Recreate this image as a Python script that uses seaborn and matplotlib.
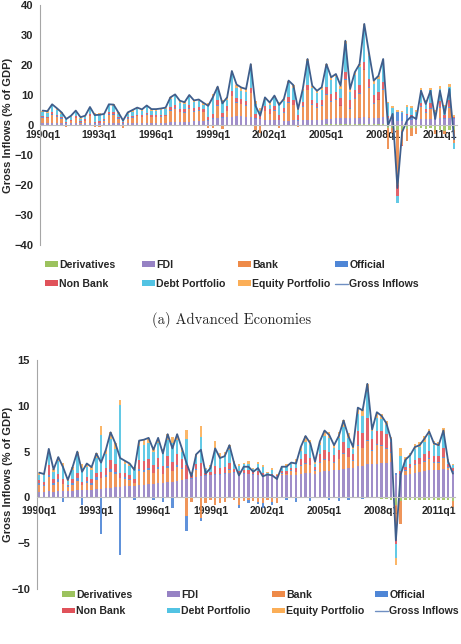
import numpy as np
import matplotlib
matplotlib.use("Agg")
import matplotlib.pyplot as plt
from matplotlib.patches import Patch
from matplotlib.lines import Line2D
import seaborn as sns

quarters = [f"{y}q{q}" for y in range(1990, 2012) for q in range(1, 5)]
tick_labels = ["1990q1", "1993q1", "1996q1", "1999q1", "2002q1", "2005q1", "2008q1", "2011q1"]
series_names = ["Derivatives", "FDI", "Bank", "Official", "Non Bank", "Debt Portfolio", "Equity Portfolio"]

# (a) Advanced economies, % of GDP, one row per year
adv_deriv = [0.1,0.1,0.1,0.1, 0.1,0.0,0.1,0.1, 0.1,0.1,0.1,0.0, 0.1,0.1,0.1,0.1, 0.1,0.0,0.1,0.1,
             0.1,0.1,0.1,0.1, 0.1,0.1,0.1,0.1, 0.1,0.1,0.1,0.1, 0.1,0.1,0.1,0.1, 0.1,0.1,0.1,0.1,
             0.1,0.1,0.1,0.1, 0.1,0.1,0.1,0.1, 0.1,0.1,0.1,0.1, 0.1,0.1,0.1,0.1, 0.1,0.1,0.1,0.1,
             0.2,0.2,0.2,0.2, 0.2,0.2,0.2,0.2, 0.2,0.2,0.2,0.2, 0.2,-1.0,-1.0,-1.5, -1.5,-1.2,-1.0,-1.0,
             -1.0,-1.2,-1.0,-1.5, -1.5,-2.0,-1.5,-1.5]
adv_fdi = [0.5,0.5,0.6,0.5, 0.5,0.4,0.5,0.5, 0.4,0.5,0.5,0.5, 0.5,0.5,0.6,0.6, 0.5,0.4,0.5,0.5,
           0.5,0.5,0.6,0.5, 0.5,0.5,0.5,0.8, 0.9,0.9,1.0,1.0, 1.1,1.2,1.3,1.4, 2.0,2.2,2.3,2.5,
           2.5,2.8,2.8,2.6, 2.5,2.0,1.8,1.7, 1.6,1.5,1.5,1.4, 1.4,1.5,1.4,1.5, 1.5,1.6,1.6,1.7,
           1.8,1.9,2.0,2.0, 2.2,2.0,2.1,2.3, 2.5,2.3,2.0,2.2, 2.4,2.0,2.0,1.5, 1.5,1.5,1.8,1.8,
           2.0,2.0,2.0,2.0, 2.2,2.0,2.2,2.0]
adv_bank = [1.8,1.6,2.8,2.2, 1.4,-0.8,0.6,1.7, 0.3,0.7,2.3,-0.8, -0.6,0.9,2.8,2.8, 1.4,-0.9,1.4,1.9,
            2.3,2.0,2.7,2.0, 2.0,2.1,2.3,3.8, 4.4,3.2,2.9,4.3, 3.2,3.4,2.8,-1.0, -1.0,4.2,-1.3,2.0,
            7.0,4.5,4.0,3.7, 8.0,-1.5,-2.5,2.8, 1.9,3.1,-1.0,2.5, 6.0,5.0,-0.5,4.4, 10.0,5.0,4.0,4.7,
            8.0,5.5,6.1,4.0, 12.5,3.3,6.5,8.0, 15.5,10.0,4.9,5.8, 9.0,-7.0,-1.5,-18.5, -5.0,-4.0,-2.5,-2.0,
            4.0,2.0,3.5,-1.5, 3.5,-1.0,3.5,-4.5]
adv_official = [0.2,0.2,0.2,0.2, 0.2,0.2,0.2,0.2, 0.2,0.2,0.2,0.2, 0.2,0.2,0.2,0.2, 0.2,0.2,0.2,0.2,
                0.2,0.2,0.2,0.2, 0.2,0.2,0.2,0.2, 0.2,0.2,0.2,0.2, 0.2,0.2,0.2,0.2, 0.2,0.2,0.2,0.2,
                0.2,0.2,0.2,0.2, 0.2,0.2,0.2,0.2, 0.2,0.2,0.2,0.2, 0.2,0.2,0.2,0.2, 0.2,0.2,0.2,0.2,
                0.3,0.3,0.3,0.3, 0.3,0.3,0.3,0.3, 0.3,0.3,0.3,0.3, 0.3,0.5,0.5,3.0, 2.5,2.0,1.0,0.5,
                0.3,0.2,0.3,0.3, 0.3,0.2,0.3,0.3]
adv_nonbank = [0.4,0.4,0.5,0.4, 0.4,0.3,0.4,0.4, 0.3,0.4,0.5,0.4, 0.4,0.4,0.5,0.5, 0.4,0.3,0.4,0.4,
               0.4,0.4,0.5,0.4, 0.4,0.4,0.4,1.0, 1.0,1.0,1.0,1.0, 1.0,1.0,1.0,1.0, 1.5,1.5,1.5,1.5,
               1.5,1.5,1.5,1.5, 1.5,1.5,1.5,1.5, 1.5,1.5,1.5,1.5, 1.5,1.5,1.5,1.5, 1.5,1.5,1.5,1.5,
               2.5,2.5,2.5,2.5, 2.5,2.5,2.5,2.5, 2.5,2.5,2.5,2.5, 2.5,0.5,0.3,-3.5, -0.5,0.3,0.5,0.5,
               1.0,1.0,1.5,0.5, 2.0,1.0,2.5,0.5]
adv_debt = [1.3,1.3,2.4,1.7, 1.1,1.1,0.8,1.4, 0.6,0.7,2.0,2.4, 2.3,1.1,2.4,2.3, 1.1,0.7,1.1,1.4,
            1.8,1.5,2.1,1.6, 1.6,1.7,1.8,2.7, 3.0,2.1,1.8,2.8, 2.0,2.0,1.4,4.1, 5.5,3.6,3.4,1.9,
            5.7,3.4,2.9,2.9, 7.0,3.3,1.2,2.1, 1.4,2.6,3.6,2.2, 4.8,4.2,1.8,3.5, 7.9,3.9,3.2,3.6,
            6.5,4.5,4.9,3.1, 9.4,2.7,5.0,6.0, 11.7,7.7,3.9,4.4, 6.6,4.3,3.0,-2.5, 0.5,2.3,2.5,1.7,
            4.3,2.5,4.3,1.7, 4.1,3.0,4.2,-2.0]
adv_equity = [0.5,0.5,0.5,0.5, 0.5,0.5,0.5,0.5, 0.5,0.5,0.5,0.5, 0.5,0.5,0.5,0.5, 0.5,0.5,0.5,0.5,
              0.5,0.5,0.5,0.5, 0.5,0.5,0.5,0.6, 0.6,0.6,0.6,0.6, 0.6,0.6,0.6,0.6, 1.0,1.0,1.0,1.0,
              1.0,1.0,1.0,1.0, 1.0,0.8,0.8,0.8, 0.8,0.8,0.8,0.8, 0.8,0.8,0.8,0.8, 0.8,0.8,0.8,0.8,
              1.0,1.0,1.0,1.0, 1.0,1.0,1.0,1.0, 1.0,1.0,1.0,1.0, 1.0,0.5,0.4,0.5, 0.1,0.5,0.6,0.5,
              0.8,0.5,0.8,0.5, 0.8,0.5,0.8,0.5]
adv_gross = [4.8,4.6,6.9,5.6, 4.2,2.0,3.1,4.8, 2.6,3.1,6.0,3.3, 3.4,3.7,6.9,6.8, 4.2,1.5,4.2,5.0,
             5.8,5.2,6.5,5.3, 5.3,5.5,5.8,9.2, 10.2,8.1,7.6,10.0, 8.2,8.5,7.4,6.4, 9.3,12.8,7.2,9.2,
             18.0,13.5,12.5,12.0, 20.3,6.4,3.1,9.2, 7.5,9.8,6.7,8.7, 14.8,13.3,5.3,12.0, 22.0,13.1,11.4,12.6,
             20.3,15.9,17.0,13.1, 28.1,12.0,17.6,20.3, 33.7,24.0,14.8,16.4, 22.0,-0.2,3.7,-21.0, -2.4,1.4,2.9,2.0,
             11.4,7.0,11.4,2.0, 11.4,3.7,12.0,-4.7]

# (b) Emerging markets
em_deriv = [0.0]*72 + [-0.2,-0.2,-0.3,-0.8, -0.4,-0.3,-0.3,-0.3, -0.3,-0.3,-0.3,-0.3, -0.3,-0.3,-0.3,-0.4]
em_fdi = [0.6,0.6,0.7,0.6, 0.7,0.7,0.7,0.7, 0.8,0.8,0.8,0.8, 0.9,0.9,1.0,1.0, 1.1,1.1,1.2,1.2,
          1.2,1.4,1.4,1.5, 1.5,1.6,1.6,1.7, 1.7,1.8,1.9,2.0, 2.0,2.2,2.3,2.3, 2.4,2.5,2.5,2.6,
          2.7,2.7,2.6,2.6, 2.6,2.5,2.5,2.4, 2.4,2.3,2.3,2.4, 2.4,2.5,2.4,2.6, 2.7,2.7,2.6,2.8,
          2.9,2.9,3.0,3.0, 3.1,3.2,3.2,3.4, 3.4,3.6,3.6,3.7, 3.8,3.8,3.9,2.5, 2.4,2.5,2.6,2.7,
          2.8,2.9,3.0,3.0, 3.0,3.1,3.0,2.8]
em_bank = [0.7,0.6,1.5,0.8, 1.0,0.8,0.4,0.7, 1.0,0.5,0.8,0.6, 1.0,1.2,1.2,1.8, 1.5,1.0,0.8,0.7,
           0.4,1.5,1.4,1.5, 1.2,1.5,1.0,1.5, 1.2,1.5,1.2,-2.0, -0.5,0.8,-2.2,-0.6, -0.3,-0.8,-0.6,-0.5,
           0.3,-0.3,-0.8,-0.4, -0.3,-0.4,-0.5,-0.6, -0.3,-0.5,-0.6,0.2, 0.2,0.4,0.4,0.8, 1.0,0.8,0.3,1.0,
           1.2,1.1,0.8,1.2, 1.6,1.2,0.8,2.2, 2.0,2.6,1.5,2.0, 1.8,1.5,1.0,-3.0, -2.5,0.4,0.6,0.8,
           0.8,1.0,1.2,0.8, 0.8,1.2,0.2,-0.6]
em_official = [0.3,0.2,0.3,0.2, 0.3,-0.5,0.1,0.2, 0.3,-0.8,0.2,0.2, 0.3,-4.0,0.2,0.3, 0.2,-6.3,0.2,0.1,
               -0.3,0.2,0.2,0.2, -0.3,0.2,-0.5,0.2, -1.2,0.2,0.1,-1.7, 0.1,0.1,-0.4,0.1, 0.1,0.1,0.1,0.1,
               0.1,0.1,-0.4,0.1, -0.3,0.1,-0.2,-0.6, 0.1,-0.3,0.0,0.1, -0.3,0.1,-0.5,0.1, 0.1,-0.4,0.1,0.1,
               0.1,-0.3,0.1,-0.4, 0.1,-0.3,0.1,0.1, -0.2,0.1,0.1,0.1, 0.1,0.1,0.1,0.2, 0.2,0.1,0.1,0.1,
               0.1,0.1,0.1,0.1, 0.1,0.1,0.1,0.1]
em_nonbank = [0.3,0.3,1.0,0.4, 0.6,0.5,0.2,0.4, 0.6,0.4,0.4,0.4, 0.5,0.7,0.8,1.0, 0.8,0.6,0.5,0.5,
              0.4,1.0,1.0,1.0, 0.8,1.0,0.8,1.1, 1.0,1.2,1.0,1.5, 0.3,0.6,1.5,0.3, 0.3,0.8,0.6,0.6,
              0.7,0.3,0.3,0.3, 0.4,0.2,0.4,0.3, 0.1,0.3,0.1,0.2, 0.3,0.2,0.4,0.7, 0.9,0.8,0.3,0.8,
              1.0,1.0,0.7,1.0, 1.3,1.0,0.6,1.6, 1.6,2.4,1.2,1.5, 1.6,1.5,1.0,-1.3, 0.3,0.3,0.4,0.5,
              0.6,0.7,0.8,0.6, 0.6,1.0,0.3,0.3]
em_debt = [0.6,0.7,1.2,0.8, 1.4,1.4,0.4,1.0, 1.8,1.5,1.1,1.0, 1.6,4.0,1.5,2.3, 1.7,7.4,1.0,0.9,
           1.1,1.5,1.7,1.7, 1.5,1.6,1.4,1.8, 2.0,1.6,0.8,2.9, 0.3,0.7,2.8,0.4, 0.5,2.0,1.2,1.2,
           1.4,0.7,0.5,0.6, 0.7,0.3,0.8,0.6, 0.1,0.4,0.1,0.3, 0.5,0.4,0.7,0.9, 1.4,1.4,0.4,1.0,
           1.5,1.5,0.8,1.3, 1.6,1.1,0.6,1.8, 1.9,2.8,0.8,1.4, 1.3,1.0,0.4,-1.5, 1.6,0.8,0.9,1.2,
           1.2,1.4,1.7,1.2, 1.1,1.5,0.4,0.3]
em_equity = [0.2,0.15,0.6,0.25, 0.4,0.4,0.1,0.3, 0.5,0.4,0.4,0.3, 0.5,1.0,0.5,0.7, 0.6,0.5,0.3,0.3,
             0.2,0.6,0.6,0.6, 0.5,0.6,0.5,0.6, 0.65,0.6,0.35,1.0, 0.1,0.3,1.2,0.1, 0.2,0.75,0.5,0.5,
             0.5,0.2,0.2,0.15, 0.25,0.1,0.2,0.2, 0.1,0.2,0.1,0.15, 0.25,0.2,0.3,0.4, 0.6,0.6,0.2,0.4,
             0.6,0.6,0.3,0.6, 0.7,0.5,0.2,0.7, 0.8,0.9,0.2,0.6, 0.5,0.4,0.2,-0.8, 0.9,0.3,0.3,0.5,
             0.5,0.6,0.7,0.5, 0.4,0.7,0.2,0.1]
em_gross = [2.7,2.55,5.3,3.05, 4.4,3.3,1.9,3.3, 5.0,2.8,3.7,3.3, 4.8,3.8,5.2,7.1, 5.9,4.3,4.0,3.7,
            3.0,6.2,6.3,6.5, 5.2,6.5,4.8,6.9, 5.35,6.9,5.35,3.7, 2.3,4.7,5.2,2.6, 3.2,5.35,4.3,4.5,
            5.7,3.7,2.4,3.35, 3.35,2.8,3.2,2.3, 2.5,2.4,2.0,3.35, 3.35,3.8,3.7,5.5, 6.7,5.9,3.9,6.1,
            7.3,6.8,5.7,6.7, 8.4,6.7,5.5,9.8, 9.5,12.4,7.4,9.3, 8.9,8.1,6.3,-4.7, 2.5,4.1,4.6,5.5,
            5.7,6.4,7.2,5.9, 5.7,7.3,3.9,2.6]

colors = {
    "Derivatives": "#9CC25E",
    "FDI": "#9682C4",
    "Bank": "#EE8A48",
    "Official": "#4F86D6",
    "Non Bank": "#E0525A",
    "Debt Portfolio": "#52C3E3",
    "Equity Portfolio": "#FBAE57",
}
line_color = "#3F5E8C"

sns.set_style("white")
plt.rcParams["font.family"] = ["Liberation Sans", "DejaVu Sans"]
plt.rcParams["font.weight"] = "bold"


def draw_panel(ax, comps, gross, ylim, step, xpad):
    x = np.arange(len(quarters))
    pos = np.zeros(len(x))
    neg = np.zeros(len(x))
    for name, vals in zip(series_names, comps):
        v = np.array(vals, dtype=float)
        base = np.where(v >= 0, pos, neg)
        ax.bar(x, v, bottom=base, width=0.5, color=colors[name], linewidth=0, alpha=0.9)
        pos += np.where(v >= 0, v, 0)
        neg += np.where(v < 0, v, 0)
    sns.lineplot(x=x, y=gross, ax=ax, color=line_color, lw=1.3)
    ax.set_xlim(-0.5, len(x) - 0.5)
    ax.set_ylim(*ylim)
    ax.set_yticks(np.arange(ylim[0], ylim[1] + 1, step))
    ax.set_xticks(np.arange(0, len(x), 12))
    ax.set_xticklabels(tick_labels)
    for s in ["top", "right"]:
        ax.spines[s].set_visible(False)
    ax.spines["left"].set_color("#A6A6A6")
    ax.spines["bottom"].set_position(("data", 0))
    ax.spines["bottom"].set_color("#BFBFBF")
    ax.tick_params(axis="x", length=0, pad=xpad, labelsize=7.5)
    ax.tick_params(axis="y", length=3, width=0.8, color="#A6A6A6", pad=2, labelsize=8, direction="out")
    ax.set_ylabel("Gross Inflows (% of GDP)", fontsize=8, fontweight="bold")


fig = plt.figure(figsize=(4.61, 6.44), dpi=100)
ax1 = fig.add_axes([40.3 / 461, 1 - 245 / 644, 416.2 / 461, 240 / 644])
ax2 = fig.add_axes([36.9 / 461, 1 - 589 / 644, 418.4 / 461, 229 / 644])

draw_panel(ax1, [adv_deriv, adv_fdi, adv_bank, adv_official, adv_nonbank, adv_debt, adv_equity],
           adv_gross, (-40, 40), 10, 3.5)
draw_panel(ax2, [em_deriv, em_fdi, em_bank, em_official, em_nonbank, em_debt, em_equity],
           em_gross, (-10, 15), 5, 6.5)
ax1.yaxis.set_label_coords(-0.066, 0.5)
ax2.yaxis.set_label_coords(-0.057, 0.5)

# legends: Excel lays entries out row by row, 4 per row
handles = {n: Patch(facecolor=colors[n], edgecolor="none") for n in series_names}
handles["Gross Inflows"] = Line2D([], [], color="#6F8FC2", lw=1.0)
cols = [["Derivatives", "Non Bank"], ["FDI", "Debt Portfolio"],
        ["Bank", "Equity Portfolio"], ["Official", "Gross Inflows"]]


def add_legend(xs, ytop, spacing):
    for xpix, names in zip(xs, cols):
        fig.legend([handles[n] for n in names], names, loc="upper left",
                   bbox_to_anchor=(xpix / 461, 1 - ytop / 644), bbox_transform=fig.transFigure,
                   frameon=False, borderpad=0, borderaxespad=0, handlelength=1.25,
                   handleheight=0.45, handletextpad=0.1, labelspacing=spacing,
                   prop={"weight": "bold", "size": 7.6})


add_legend([45, 142, 238, 335], 260, 0.85)
add_legend([62, 167, 272, 375], 590, 0.6)

fig.text(232 / 461, 1 - 320 / 644, "(a) Advanced Economies", family="cmr10",
         fontsize=10.5, fontweight="normal", ha="center", va="center")

fig.savefig("out.png", dpi=100)
